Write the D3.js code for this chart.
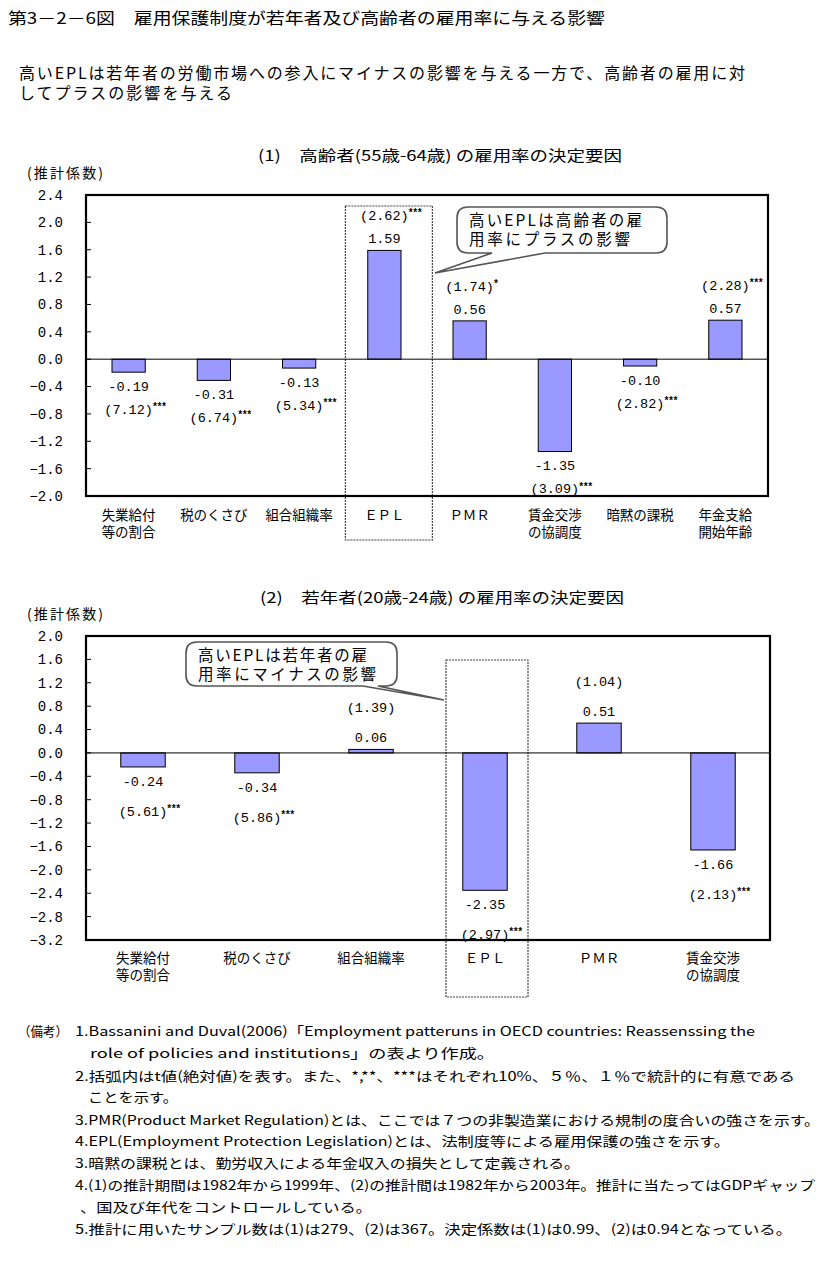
<!DOCTYPE html>
<html>
<head>
<meta charset="utf-8">
<script src="https://cdn.jsdelivr.net/npm/d3@7"></script>
<style>
  body { margin: 0; background: #fff; }
  text { font-family: "Noto Sans CJK JP", sans-serif; fill: #000; }
  .num { font-family: "Liberation Mono", monospace; }
</style>
</head>
<body>
<script>
  var width = 830
  var height = 1268

  // (1) 高齢者
  var cats1 = [["失業給付", "等の割合"], ["税のくさび"], ["組合組織率"], ["ＥＰＬ"], ["ＰＭＲ"], ["賃金交渉", "の協調度"], ["暗黙の課税"], ["年金支給", "開始年齢"]];
  var coef1 = [-0.19, -0.31, -0.13, 1.59, 0.56, -1.35, -0.10, 0.57];
  var tval1 = ["7.12", "6.74", "5.34", "2.62", "1.74", "3.09", "2.82", "2.28"];
  var star1 = ["***", "***", "***", "***", "*", "***", "***", "***"];
  var ticks1 = [2.4, 2.0, 1.6, 1.2, 0.8, 0.4, 0.0, -0.4, -0.8, -1.2, -1.6, -2.0];

  // (2) 若年者
  var cats2 = [["失業給付", "等の割合"], ["税のくさび"], ["組合組織率"], ["ＥＰＬ"], ["ＰＭＲ"], ["賃金交渉", "の協調度"]];
  var coef2 = [-0.24, -0.34, 0.06, -2.35, 0.51, -1.66];
  var tval2 = ["5.61", "5.86", "1.39", "2.97", "1.04", "2.13"];
  var star2 = ["***", "***", "", "***", "", "***"];
  var ticks2 = [2.0, 1.6, 1.2, 0.8, 0.4, 0.0, -0.4, -0.8, -1.2, -1.6, -2.0, -2.4, -2.8, -3.2];

  var notes = [
    {x: 18, y: 1031, w: 50, t: "（備考）"},
    {x: 75, y: 1031, w: 680, t: "1.Bassanini and Duval(2006)「Employment patteruns in OECD countries: Reassenssing the"},
    {x: 90, y: 1053, w: 405, t: "role of policies and institutions」の表より作成。"},
    {x: 75, y: 1076, w: 720, t: "2.括弧内はt値(絶対値)を表す。また、*,**、***はそれぞれ10%、５％、１％で統計的に有意である"},
    {x: 88, y: 1097, w: 90, t: "ことを示す。"},
    {x: 75, y: 1120, w: 745, t: "3.PMR(Product Market Regulation)とは、ここでは７つの非製造業における規制の度合いの強さを示す。"},
    {x: 75, y: 1141, w: 655, t: "4.EPL(Employment Protection Legislation)とは、法制度等による雇用保護の強さを示す。"},
    {x: 75, y: 1163, w: 505, t: "3.暗黙の課税とは、勤労収入による年金収入の損失として定義される。"},
    {x: 75, y: 1185, w: 740, t: "4.(1)の推計期間は1982年から1999年、(2)の推計間は1982年から2003年。推計に当たってはGDPギャップ"},
    {x: 80, y: 1207, w: 292, t: "、国及び年代をコントロールしている。"},
    {x: 75, y: 1229, w: 717, t: "5.推計に用いたサンプル数は(1)は279、(2)は367。決定係数は(1)は0.99、(2)は0.94となっている。"}
  ];

  var svg = d3.select("body").append("svg")
    .attr("width", width)
    .attr("height", height);

  svg.append("text").attr("x", 8).attr("y", 18).attr("dy", "0.35em")
    .attr("font-size", 16).attr("textLength", 597).attr("lengthAdjust", "spacingAndGlyphs")
    .text("第3－2－6図　雇用保護制度が若年者及び高齢者の雇用率に与える影響");
  svg.append("text").attr("x", 19).attr("y", 73).attr("dy", "0.35em")
    .attr("font-size", 16).attr("textLength", 726).attr("lengthAdjust", "spacing")
    .text("高いEPLは若年者の労働市場への参入にマイナスの影響を与える一方で、高齢者の雇用に対");
  svg.append("text").attr("x", 19).attr("y", 93).attr("dy", "0.35em")
    .attr("font-size", 16).attr("textLength", 213).attr("lengthAdjust", "spacing")
    .text("してプラスの影響を与える");

  function callout(g, b) {
    var r = 11;
    var p = "M" + (b.x0 + r) + "," + b.y0 + "H" + (b.x1 - r) +
      "Q" + b.x1 + "," + b.y0 + " " + b.x1 + "," + (b.y0 + r) +
      "V" + (b.y1 - r) + "Q" + b.x1 + "," + b.y1 + " " + (b.x1 - r) + "," + b.y1 +
      "H" + b.b2 + "L" + b.tx + "," + b.ty + "L" + b.b1 + "," + b.y1 +
      "H" + (b.x0 + r) + "Q" + b.x0 + "," + b.y1 + " " + b.x0 + "," + (b.y1 - r) +
      "V" + (b.y0 + r) + "Q" + b.x0 + "," + b.y0 + " " + (b.x0 + r) + "," + b.y0 + "Z";
    g.append("path").attr("d", p).attr("fill", "#fff")
      .attr("stroke", "#555").attr("stroke-width", 1.6);
    b.lines.forEach(function(s, i) {
      g.append("text").attr("x", b.x0 + 12).attr("y", b.y0 + 14 + i * 19).attr("dy", "0.35em")
        .attr("font-size", 15.5).attr("textLength", b.lw[i]).attr("lengthAdjust", "spacing")
        .text(s);
    });
  }

  function drawChart(c) {
    var g = svg.append("g");
    var x = d3.scaleBand().domain(d3.range(c.cats.length)).range([c.left, c.right]);
    var y = d3.scaleLinear().domain([c.ticks[c.ticks.length - 1], c.ticks[0]]).range([c.bottom, c.top]);
    var bw = x.bandwidth() * 0.39;
    var fmt = d3.format(".1f");

    g.append("text").attr("x", c.titleX).attr("y", c.titleY).attr("dy", "0.35em")
      .attr("font-size", 15).attr("textLength", 364).attr("lengthAdjust", "spacingAndGlyphs")
      .text(c.title);
    g.append("text").attr("x", 27).attr("y", c.top - 22).attr("dy", "0.35em")
      .attr("font-size", 14).attr("textLength", 76).attr("lengthAdjust", "spacing")
      .text("(推計係数)");

    // y ticks
    g.selectAll(".yl").data(c.ticks).enter().append("text")
      .attr("class", "num")
      .attr("x", 63).attr("y", function(d) { return y(d); }).attr("dy", "0.35em")
      .attr("text-anchor", "end").attr("font-size", 14)
      .text(function(d) { return fmt(d); });
    g.selectAll(".tk").data(c.ticks).enter().append("line")
      .attr("x1", c.left).attr("x2", c.left + 5)
      .attr("y1", function(d) { return y(d); }).attr("y2", function(d) { return y(d); })
      .attr("stroke", "#000");

    // EPL dotted box
    var ec = x(c.epl) + x.bandwidth() / 2;
    g.append("rect")
      .attr("x", ec + c.boxL).attr("y", c.boxTop)
      .attr("width", c.boxR - c.boxL).attr("height", c.boxBottom - c.boxTop)
      .attr("fill", "none").attr("stroke", "#444").attr("stroke-width", 1.2)
      .attr("stroke-dasharray", "2,1");

    // bars
    g.selectAll(".bar").data(c.coef).enter().append("rect")
      .attr("x", function(d, i) { return x(i) + (x.bandwidth() - bw) / 2; })
      .attr("y", function(d) { return y(Math.max(0, d)); })
      .attr("width", bw)
      .attr("height", function(d) { return Math.abs(y(d) - y(0)); })
      .attr("fill", "#9999ff").attr("stroke", "#000").attr("stroke-width", 1);

    g.append("line").attr("x1", c.left).attr("x2", c.right)
      .attr("y1", y(0)).attr("y2", y(0)).attr("stroke", "#000");

    // value and t labels
    c.coef.forEach(function(d, i) {
      var cx = x(i) + x.bandwidth() / 2;
      var dir = d >= 0 ? -1 : 1;
      var vy = y(d) + dir * (d >= 0 ? 12 : 14);
      g.append("text").attr("class", "num")
        .attr("x", cx).attr("y", vy).attr("dy", "0.35em")
        .attr("text-anchor", "middle").attr("font-size", 13.5)
        .text(d.toFixed(2));
      var ty = vy + dir * c.tGap;
      var t = g.append("text").attr("class", "num")
        .attr("x", cx).attr("y", ty).attr("dy", "0.35em")
        .attr("text-anchor", "middle").attr("font-size", 13.5)
        .text("(" + c.tval[i] + ")");
      var w = t.node().getComputedTextLength();
      if (c.star[i]) {
        g.append("text").attr("class", "num")
          .attr("x", cx + w / 2 - 1).attr("y", ty + 1)
          .attr("font-size", 10).attr("font-weight", "bold")
          .attr("letter-spacing", -1.5)
          .text(c.star[i]);
      }
    });

    // category labels
    c.cats.forEach(function(lines, i) {
      var cx = x(i) + x.bandwidth() / 2;
      lines.forEach(function(s, j) {
        g.append("text")
          .attr("x", cx).attr("y", c.bottom + c.catDy + j * 17).attr("dy", "0.35em")
          .attr("text-anchor", "middle").attr("font-size", 13.5)
          .text(s);
      });
    });

    // frame
    g.append("rect").attr("x", c.left).attr("y", c.top)
      .attr("width", c.right - c.left).attr("height", c.bottom - c.top)
      .attr("fill", "none").attr("stroke", "#000").attr("stroke-width", 2.2);

    callout(g, c.call);
  }

  drawChart({
    cats: cats1, coef: coef1, tval: tval1, star: star1, ticks: ticks1,
    left: 86, right: 768, top: 195, bottom: 496,
    title: "(1)　高齢者(55歳-64歳) の雇用率の決定要因", titleX: 258, titleY: 156,
    epl: 3, boxL: -39, boxR: 48, boxTop: 206, boxBottom: 540,
    tGap: 23, catDy: 19,
    call: {x0: 457, x1: 667, y0: 207, y1: 253, b1: 492, b2: 545, tx: 435, ty: 273,
      lines: ["高いEPLは高齢者の雇", "用率にプラスの影響"], lw: [173, 161]}
  });

  drawChart({
    cats: cats2, coef: coef2, tval: tval2, star: star2, ticks: ticks2,
    left: 86, right: 770, top: 636, bottom: 940,
    title: "(2)　若年者(20歳-24歳) の雇用率の決定要因", titleX: 260, titleY: 598,
    epl: 3, boxL: -39, boxR: 43, boxTop: 660, boxBottom: 997,
    tGap: 30, catDy: 18,
    call: {x0: 186, x1: 397, y0: 642, y1: 686, b1: 363, b2: 378, tx: 444, ty: 700,
      lines: ["高いEPLは若年者の雇", "用率にマイナスの影響"], lw: [169, 178]}
  });

  notes.forEach(function(n) {
    svg.append("text").attr("x", n.x).attr("y", n.y).attr("dy", "0.35em")
      .attr("font-size", 13).attr("textLength", n.w).attr("lengthAdjust", "spacingAndGlyphs")
      .text(n.t);
  });
</script>
</body>
</html>
